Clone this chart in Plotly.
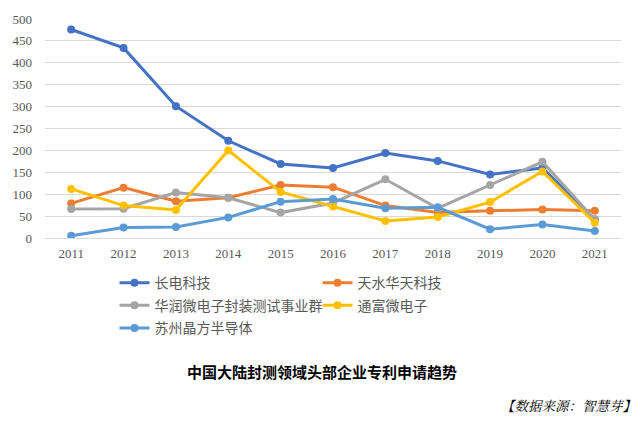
import plotly.graph_objects as go

years = ["2011", "2012", "2013", "2014", "2015", "2016", "2017", "2018", "2019", "2020", "2021"]

changdian = [476, 434, 301, 222, 169, 160, 194, 176, 145, 160, 42]
tianshui = [79, 115, 84, 92, 121, 116, 74, 58, 62, 65, 62]
huarun = [66, 67, 104, 92, 58, 80, 134, 68, 121, 174, 42]
tongfu = [112, 74, 64, 200, 105, 72, 39, 48, 82, 152, 35]
jingfang = [5, 24, 25, 47, 83, 89, 68, 70, 20, 31, 16]

series_names = ["长电科技", "天水华天科技", "华润微电子封装测试事业群", "通富微电子", "苏州晶方半导体"]
colors = ["#4472C4", "#ED7D31", "#A5A5A5", "#FFC000", "#5B9BD5"]
# which legend row each series sits in (two per row, like the Excel legend)
legend_rows = ["legend", "legend", "legend2", "legend2", "legend3"]

title_text = "中国大陆封测领域头部企业专利申请趋势"
source_text = "【数据来源：智慧芽】"

W, H = 640, 421
ML, MR, MT, MB = 41, 19, 15, 183
PW = W - ML - MR

fig = go.Figure()
for name, vals, col, lg in zip(series_names, [changdian, tianshui, huarun, tongfu, jingfang],
                               colors, legend_rows):
    fig.add_trace(go.Scatter(
        x=years, y=vals, name=name, mode="lines+markers",
        line=dict(color=col, width=3),
        marker=dict(color=col, size=8),
        legend=lg,
    ))

def py(pix):
    # pixel row -> paper y
    return (H - MB - pix) / (H - MT - MB)

def px(pix):
    return (pix - ML) / PW

def legend_row(center_y):
    return dict(
        orientation="h", x=px(111), xanchor="left", y=py(center_y), yanchor="middle",
        entrywidth=158, entrywidthmode="pixels",
        font=dict(family="Noto Sans CJK SC", size=14, color="#595959"),
        traceorder="normal", itemwidth=30, bgcolor="rgba(0,0,0,0)",
    )

fig.update_layout(
    width=W, height=H,
    margin=dict(l=ML, r=MR, t=MT, b=MB),
    paper_bgcolor="white", plot_bgcolor="white",
    font=dict(family="Liberation Serif", size=13, color="#595959"),
    showlegend=True,
    legend=legend_row(284),
    legend2=legend_row(307),
    legend3=legend_row(330),
    annotations=[
        dict(text="<b>" + title_text + "</b>", xref="paper", yref="paper",
             x=px(320), y=py(374), xanchor="center", yanchor="middle",
             showarrow=False,
             font=dict(family="Noto Sans CJK SC", size=15, color="#000000")),
        dict(text="<i>" + source_text + "</i>", xref="paper", yref="paper",
             x=px(638), y=py(408), xanchor="right", yanchor="middle",
             showarrow=False,
             font=dict(family="Noto Serif CJK SC, Noto Sans CJK SC", size=13.5, color="#000000")),
    ],
)
fig.update_xaxes(
    type="category", range=[-0.5, 10.5], showgrid=False,
    showline=True, linecolor="#D9D9D9", linewidth=1,
    ticks="", ticklabelstandoff=3,
    tickfont=dict(family="Liberation Serif", size=13, color="#595959"),
)
fig.update_yaxes(
    range=[0, 500], dtick=50, showgrid=True, gridcolor="#D9D9D9", gridwidth=1,
    zeroline=True, zerolinecolor="#D9D9D9", zerolinewidth=1,
    showline=False, ticks="", ticklabelstandoff=12,
    tickfont=dict(family="Liberation Serif", size=13, color="#595959"),
)

fig.write_html("out.html", config={"displayModeBar": False},
               post_script="document.body.style.margin='0';")
